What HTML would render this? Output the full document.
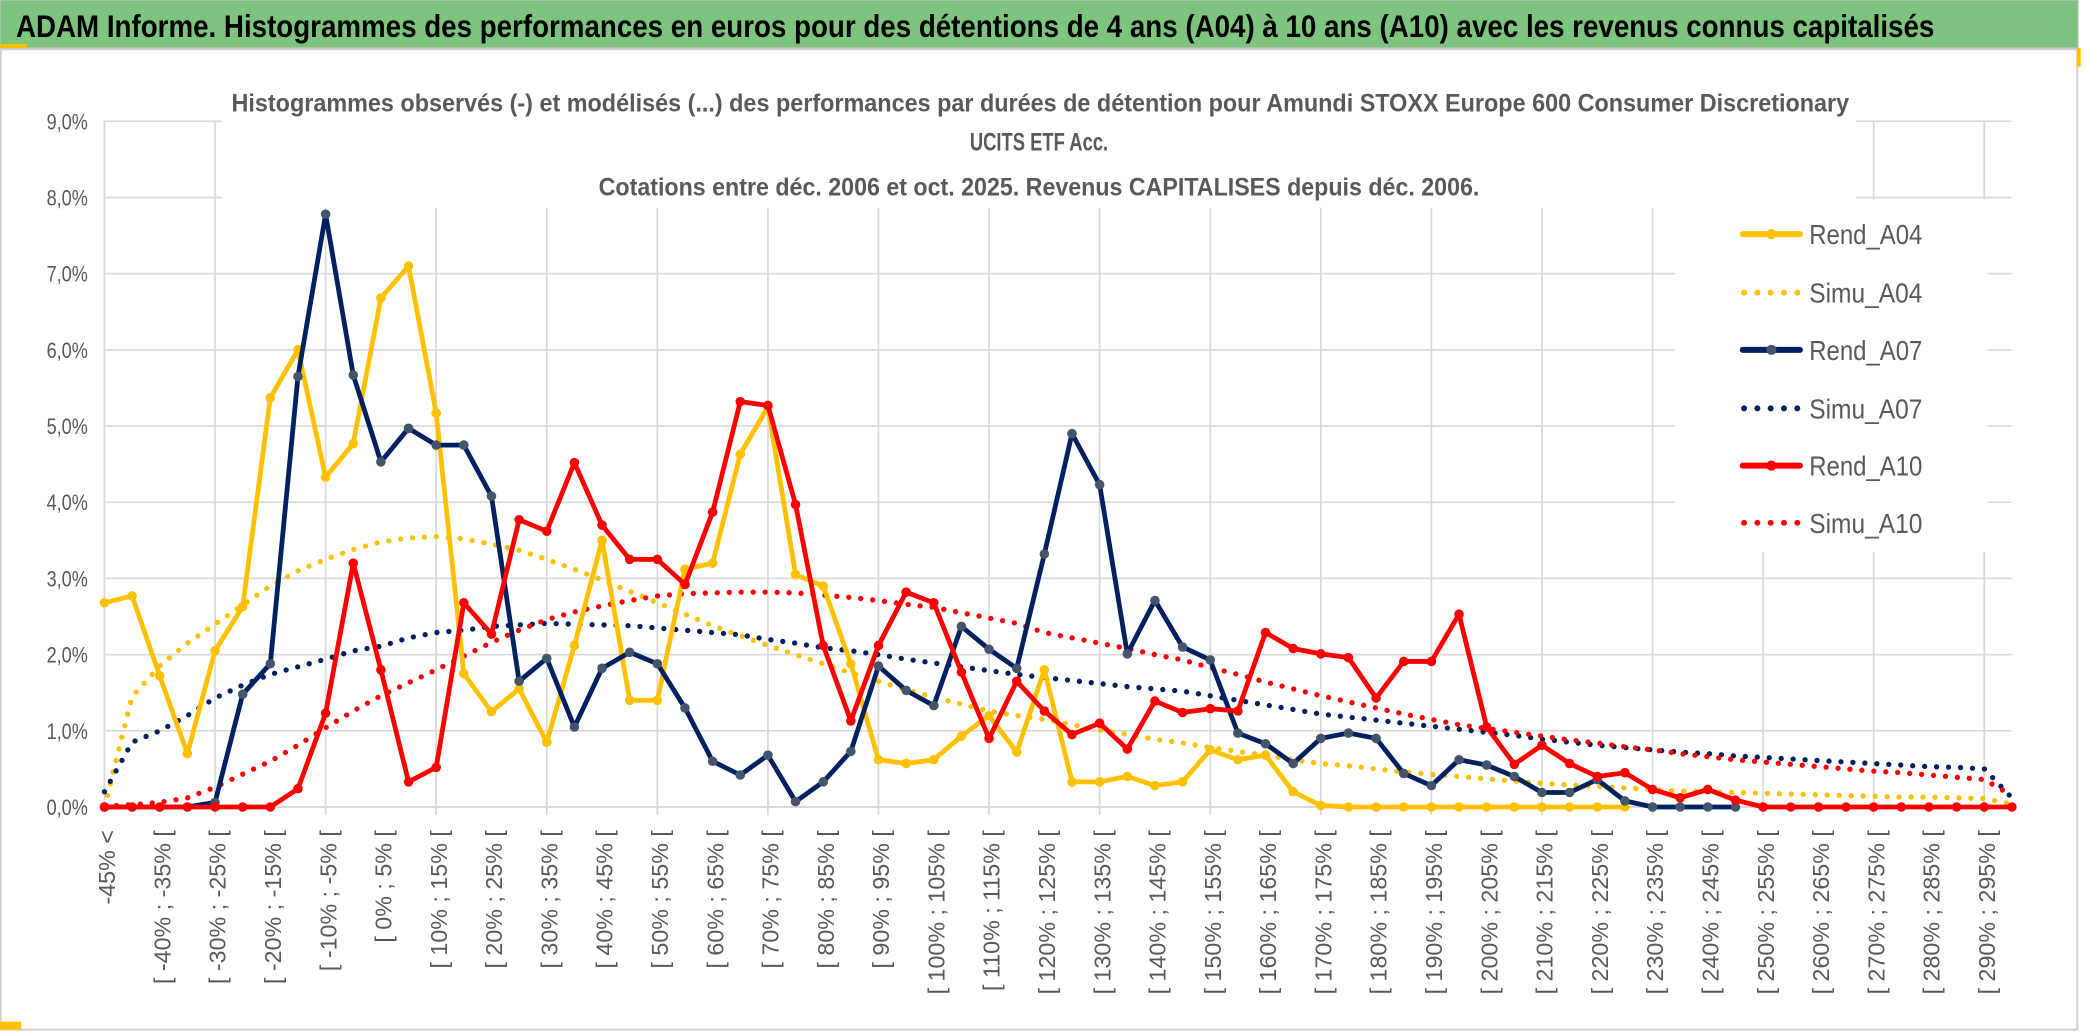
<!DOCTYPE html>
<html><head><meta charset="utf-8"><style>
html,body{margin:0;padding:0;background:#fff;}
svg{display:block;font-family:"Liberation Sans",sans-serif;}
</style></head><body>
<svg id="chart" width="2086" height="1033" viewBox="0 0 1568 776.5" xmlns="http://www.w3.org/2000/svg">
  <rect x="0.5" y="37" width="1561" height="737" fill="#fff" stroke="#d0d0d0" stroke-width="1.5"/>
  <rect x="0" y="0" width="1562" height="36" fill="#7dc57e" stroke="#bfbfbf" stroke-width="1"/>
  <rect x="0" y="33" width="20" height="3" fill="#ffc000"/>
  <rect x="1561" y="36" width="3" height="14" fill="#ffc000"/>
  <rect x="0" y="768" width="16" height="6" fill="#ffc000"/>
  <text x="12" y="28" font-size="24" font-weight="bold" fill="#000" textLength="1442" lengthAdjust="spacingAndGlyphs">ADAM Informe. Histogrammes des performances en euros pour des détentions de 4 ans (A04) à 10 ans (A10) avec les revenus connus capitalisés</text>
  <g id="grid"></g>
  <rect x="167" y="60" width="1228" height="96" fill="#fff"/>
  <rect x="1259" y="150" width="235" height="265" fill="#fff"/>
  <g id="axes"></g>
  <g id="series"></g>
  <g font-size="18.5" font-weight="bold" fill="#595959" text-anchor="middle">
    <text x="782" y="84" textLength="1216" lengthAdjust="spacingAndGlyphs">Histogrammes observés (-) et modélisés (...) des performances par durées de détention pour Amundi STOXX Europe 600 Consumer Discretionary</text>
    <text x="781" y="113" textLength="104" lengthAdjust="spacingAndGlyphs">UCITS ETF Acc.</text>
    <text x="781" y="147" textLength="662" lengthAdjust="spacingAndGlyphs">Cotations entre déc. 2006 et oct. 2025. Revenus CAPITALISES depuis déc. 2006.</text>
  </g>
  <g id="legend"></g>
</svg>
<script>
const rendA04 = [2.68,2.77,1.72,0.70,2.05,2.63,5.37,6.00,4.33,4.77,6.68,7.10,5.17,1.75,1.25,1.55,0.85,2.12,3.50,1.40,1.40,3.12,3.20,4.63,5.25,3.05,2.90,1.88,0.62,0.57,0.62,0.93,1.20,0.72,1.80,0.33,0.33,0.40,0.28,0.33,0.75,0.62,0.68,0.20,0.02,0,0,0,0,0,0,0,0,0,0,0];
const rendA07 = [0,0,0,0,0.06,1.48,1.88,5.65,7.78,5.67,4.53,4.97,4.75,4.75,4.08,1.65,1.95,1.05,1.82,2.03,1.88,1.30,0.60,0.42,0.68,0.07,0.33,0.73,1.85,1.53,1.33,2.37,2.07,1.82,3.32,4.90,4.23,2.01,2.71,2.10,1.93,0.97,0.83,0.57,0.90,0.97,0.90,0.44,0.28,0.62,0.55,0.40,0.19,0.19,0.36,0.08,0,0,0,0];
const rendA10 = [0,0,0,0,0,0,0,0.24,1.23,3.20,1.80,0.33,0.52,2.68,2.27,3.77,3.62,4.52,3.70,3.25,3.25,2.92,3.87,5.32,5.27,3.97,2.12,1.13,2.12,2.82,2.68,1.77,0.90,1.65,1.26,0.95,1.10,0.76,1.39,1.24,1.29,1.26,2.29,2.08,2.01,1.96,1.43,1.91,1.91,2.53,1.05,0.56,0.81,0.57,0.40,0.45,0.23,0.12,0.23,0.09,0,0,0,0,0,0,0,0,0,0];
const simuA04 = [0,1.45,1.85,2.15,2.40,2.65,2.90,3.10,3.25,3.38,3.48,3.53,3.55,3.52,3.45,3.37,3.25,3.12,2.98,2.83,2.68,2.53,2.38,2.25,2.12,2.00,1.88,1.76,1.65,1.54,1.44,1.35,1.26,1.20,1.15,1.08,1.01,0.95,0.89,0.84,0.78,0.73,0.68,0.62,0.57,0.54,0.50,0.46,0.43,0.40,0.37,0.34,0.31,0.29,0.27,0.25,0.23,0.21,0.20,0.19,0.18,0.17,0.16,0.15,0.14,0.13,0.13,0.12,0.11,0.04];
const simuA07 = [0.20,0.85,1.00,1.20,1.43,1.60,1.74,1.84,1.94,2.05,2.11,2.22,2.29,2.32,2.37,2.39,2.41,2.40,2.39,2.38,2.35,2.32,2.29,2.26,2.20,2.15,2.09,2.05,2.00,1.94,1.89,1.84,1.79,1.74,1.70,1.66,1.62,1.58,1.55,1.52,1.46,1.40,1.34,1.28,1.22,1.18,1.14,1.10,1.06,1.02,0.98,0.94,0.89,0.85,0.81,0.78,0.75,0.72,0.70,0.67,0.65,0.63,0.61,0.59,0.57,0.55,0.53,0.52,0.50,0.12];
const simuA10 = [0.01,0.03,0.06,0.12,0.26,0.43,0.60,0.81,1.04,1.26,1.46,1.63,1.80,1.98,2.16,2.32,2.46,2.56,2.64,2.71,2.77,2.80,2.81,2.82,2.82,2.81,2.78,2.75,2.71,2.66,2.62,2.55,2.48,2.41,2.29,2.22,2.15,2.08,2.00,1.93,1.83,1.74,1.64,1.55,1.46,1.38,1.30,1.22,1.15,1.08,1.03,0.98,0.93,0.88,0.84,0.79,0.75,0.70,0.66,0.62,0.59,0.56,0.53,0.50,0.47,0.45,0.42,0.39,0.36,0.15];
const yTicks = [0,1,2,3,4,5,6,7,8,9];
const yTickLabels = ["0,0%","1,0%","2,0%","3,0%","4,0%","5,0%","6,0%","7,0%","8,0%","9,0%"];
const categoryCount = 70;
const categoryLabels = [];
for (let i = 0; i < categoryCount; i++) {
  if (i === 0) categoryLabels.push("-45% <");
  else if (i % 2 === 0) { const lo = -50 + 5 * i; categoryLabels.push("[ " + lo + "% ; " + (lo + 5) + "% ["); }
  else categoryLabels.push("");
}
const seriesNames = ["Rend_A04","Simu_A04","Rend_A07","Simu_A07","Rend_A10","Simu_A10"];

const NS = "http://www.w3.org/2000/svg";
const X0 = 78.5, DX = 20.78, Y0 = 606.6, DY = 57.27;
function xScale(i){ return X0 + i * DX; }
function yScale(v){ return Y0 - v * DY; }
function mk(tag, attrs, parent){ const e = document.createElementNS(NS, tag); for (const k in attrs) e.setAttribute(k, attrs[k]); parent.appendChild(e); return e; }

const grid = document.getElementById("grid");
yTicks.forEach(function(t){
  if (t === 0) return;
  const l = mk("line", {x1: X0, x2: 1512, y1: yScale(t), y2: yScale(t), stroke: "#d9d9d9", "stroke-width": 1.3}, grid);
  
  
});
for (let i = 4; i < categoryCount; i += 4) {
  const l = mk("line", {x1: xScale(i), x2: xScale(i), y1: yScale(9), y2: Y0 + 6, stroke: "#d9d9d9", "stroke-width": 1.3}, grid);
  
  
}

const axes = document.getElementById("axes");
const yAxis = mk("line", {x1: X0, x2: X0, y1: yScale(9), y2: Y0, stroke: "#d9d9d9", "stroke-width": 1.3}, axes);


const xAxis = mk("line", {x1: X0, x2: 1512, y1: Y0, y2: Y0, stroke: "#d9d9d9", "stroke-width": 1.5}, axes);


yTicks.forEach(function(t, k){
  const tx = mk("text", {x: 66, y: yScale(t) + 6, "font-size": 16.5, fill: "#595959", "text-anchor": "end", textLength: 31, lengthAdjust: "spacingAndGlyphs"}, axes);
  tx.textContent = yTickLabels[k];
  
  
});
categoryLabels.forEach(function(lab, i){
  if (!lab) return;
  const x = xScale(i) + 2, y = 624;
  const tx = mk("text", {x: x, y: y, "font-size": 17.5, fill: "#595959", "text-anchor": "end", "dominant-baseline": "central", transform: "rotate(-90 " + x + " " + y + ")"}, axes);
  tx.textContent = lab;
  
  
});

const series = document.getElementById("series");
function pts(arr){ return arr.map(function(v, i){ return xScale(i).toFixed(2) + "," + yScale(v).toFixed(2); }).join(" "); }
function dotted(arr, color, name){
  const p = mk("polyline", {points: pts(arr), fill: "none", stroke: color, "stroke-width": 4, "stroke-linecap": "round", "stroke-dasharray": "0 9"}, series);
  
  
}
function solid(arr, color, marker, name){
  const g = mk("g", {}, series);
  
  
  const p = mk("polyline", {points: pts(arr), fill: "none", stroke: color, "stroke-width": 3.6, "stroke-linejoin": "round"}, g);
  
  
  arr.forEach(function(v, i){
    const c = mk("circle", {cx: xScale(i), cy: yScale(v), r: 3.6, fill: marker}, g);
    
    
  });
}
dotted(simuA04, "#ffc000", "simu-a04-series");
dotted(simuA07, "#002060", "simu-a07-series");
dotted(simuA10, "#ff0000", "simu-a10-series");
solid(rendA04, "#ffc000", "#ffc000", "rend-a04-series");
solid(rendA07, "#002060", "#44546a", "rend-a07-series");
solid(rendA10, "#ff0000", "#ff0000", "rend-a10-series");

const legend = document.getElementById("legend");
const legColors = ["#ffc000","#ffc000","#002060","#002060","#ff0000","#ff0000"];
const legMarkers = ["#ffc000","","#44546a","","#ff0000",""];
const legY = [176,220,263,307,350,393];
seriesNames.forEach(function(n, k){
  const g = mk("g", {}, legend);
  
  
  const y = legY[k];
  if (k % 2 === 0) {
    mk("line", {x1: 1310, x2: 1353, y1: y, y2: y, stroke: legColors[k], "stroke-width": 4.5, "stroke-linecap": "round"}, g);
    mk("circle", {cx: 1331.5, cy: y, r: 3.8, fill: legMarkers[k]}, g);
  } else {
    mk("line", {x1: 1311, x2: 1353, y1: y, y2: y, stroke: legColors[k], "stroke-width": 4.5, "stroke-linecap": "round", "stroke-dasharray": "0 10"}, g);
  }
  const t = mk("text", {x: 1360, y: y + 7.5, "font-size": 21, fill: "#595959", textLength: 85, lengthAdjust: "spacingAndGlyphs"}, g);
  t.textContent = n;
});
</script>
</body></html>
